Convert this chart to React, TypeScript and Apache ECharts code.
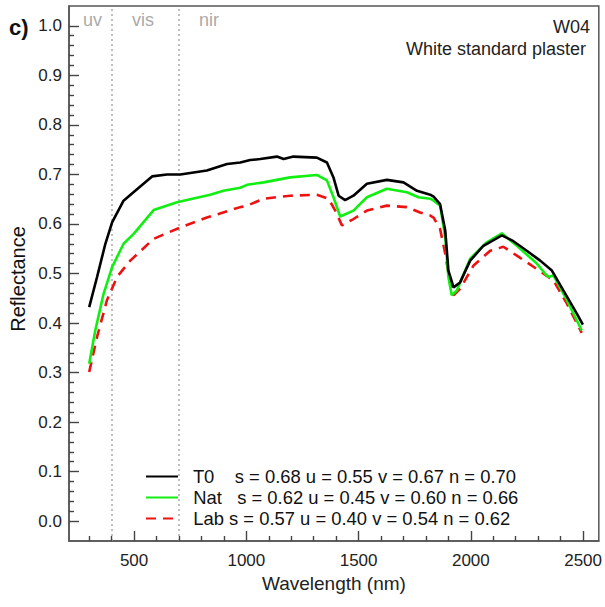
import React, { useEffect, useRef } from 'react';
import * as echarts from 'echarts';

// ---- data ----
const seriesNames = ['T0', 'Nat', 'Lab'];
const statS = ['0.68', '0.62', '0.57'];
const statU = ['0.55', '0.45', '0.40'];
const statV = ['0.67', '0.60', '0.54'];
const statN = ['0.70', '0.66', '0.62'];
const nameSpacer = ['    ', '   ', ' '];

const t0Wl = [300, 335, 372, 402, 453, 505, 580, 646, 706, 824, 914, 973, 1017, 1062, 1136, 1166, 1210, 1314, 1359, 1388, 1411, 1440, 1477, 1537, 1626, 1700, 1760, 1819, 1834, 1863, 1886, 1900, 1923, 1952, 1997, 2056, 2138, 2183, 2249, 2309, 2361, 2412, 2472, 2499];
const t0Ref = [0.432, 0.493, 0.560, 0.603, 0.647, 0.667, 0.696, 0.700, 0.700, 0.708, 0.721, 0.724, 0.729, 0.731, 0.736, 0.731, 0.736, 0.734, 0.724, 0.694, 0.657, 0.648, 0.657, 0.681, 0.689, 0.684, 0.667, 0.659, 0.655, 0.640, 0.587, 0.506, 0.472, 0.482, 0.526, 0.556, 0.577, 0.567, 0.546, 0.526, 0.506, 0.466, 0.419, 0.397];

const natWl = [300, 327, 364, 402, 453, 498, 587, 691, 839, 898, 973, 1003, 1077, 1195, 1314, 1359, 1388, 1418, 1477, 1537, 1626, 1715, 1767, 1819, 1834, 1863, 1886, 1900, 1915, 1938, 1997, 2071, 2138, 2205, 2294, 2330, 2345, 2368, 2428, 2494];
const natRef = [0.318, 0.385, 0.459, 0.513, 0.560, 0.580, 0.628, 0.644, 0.659, 0.667, 0.673, 0.679, 0.684, 0.694, 0.699, 0.688, 0.654, 0.615, 0.627, 0.654, 0.671, 0.664, 0.654, 0.651, 0.647, 0.637, 0.573, 0.493, 0.456, 0.466, 0.530, 0.563, 0.581, 0.556, 0.520, 0.500, 0.493, 0.496, 0.446, 0.385];

const labWl = [300, 335, 379, 424, 483, 587, 706, 824, 973, 1003, 1077, 1195, 1314, 1366, 1396, 1426, 1477, 1537, 1626, 1715, 1774, 1819, 1834, 1863, 1886, 1908, 1923, 1952, 2012, 2086, 2145, 2205, 2294, 2368, 2428, 2494];
const labRef = [0.301, 0.372, 0.446, 0.493, 0.526, 0.570, 0.593, 0.613, 0.634, 0.637, 0.651, 0.657, 0.659, 0.651, 0.627, 0.597, 0.610, 0.627, 0.637, 0.634, 0.623, 0.617, 0.613, 0.590, 0.540, 0.479, 0.456, 0.469, 0.516, 0.546, 0.554, 0.536, 0.509, 0.486, 0.439, 0.380];

const xTickValues = [500, 1000, 1500, 2000, 2500];
const xMinorTickValues = [300, 400, 500, 600, 700, 800, 900, 1000, 1100, 1200, 1300, 1400, 1500, 1600, 1700, 1800, 1900, 2000, 2100, 2200, 2300, 2400, 2500];
const yTickValues = [0, 0.1, 0.2, 0.3, 0.4, 0.5, 0.6, 0.7, 0.8, 0.9, 1.0];
const yMinorTickValues = [0, 0.02, 0.04, 0.06, 0.08, 0.1, 0.12, 0.14, 0.16, 0.18, 0.2, 0.22, 0.24, 0.26, 0.28, 0.3, 0.32, 0.34, 0.36, 0.38, 0.4, 0.42, 0.44, 0.46, 0.48, 0.5, 0.52, 0.54, 0.56, 0.58, 0.6, 0.62, 0.64, 0.66, 0.68, 0.7, 0.72, 0.74, 0.76, 0.78, 0.8, 0.82, 0.84, 0.86, 0.88, 0.9, 0.92, 0.94, 0.96, 0.98, 1.0];

const X_MIN = 210;
const X_MAX = 2570;
const Y_MIN = -0.04;
const Y_MAX = 1.04;

const regionBounds = [400, 700];
const regionLabels = ['uv', 'vis', 'nir'];
const panelLabel = 'c)';
const sampleCode = 'W04';
const sampleName = 'White standard plaster';

const FONT = '"Liberation Sans", Arial, sans-serif';

// layout
const W = 605, H = 607;
const GRID = { left: 69, right: 6, top: 6, bottom: 66 };
const MAJOR_PX = 10, MINOR_PX = 5;

const zip = (a: number[], b: number[]) => a.map((v, i) => [v, b[i]]);

export default function App() {
  const ref = useRef<HTMLDivElement>(null);
  useEffect(() => {
    if (!ref.current) return;
    const chart = echarts.init(ref.current, undefined, { renderer: 'svg' });
    const axisColor = '#555';
    const colors = ['#000000', '#11ee11', '#ee1111'];
    const datas = [zip(t0Wl, t0Ref), zip(natWl, natRef), zip(labWl, labRef)];

    // tick length in data units (pixel length / axis scale)
    const xPerPx = (X_MAX - X_MIN) / (W - GRID.left - GRID.right);
    const yPerPx = (Y_MAX - Y_MIN) / (H - GRID.top - GRID.bottom);
    const tickStyle = { type: 'solid', color: '#444', width: 1.4 };
    const tickLines: any[] = [];
    xMinorTickValues.forEach((v) => {
      const len = (xTickValues.includes(v) ? MAJOR_PX : MINOR_PX) * yPerPx;
      tickLines.push([{ coord: [v, Y_MIN], lineStyle: tickStyle }, { coord: [v, Y_MIN + len] }]);
    });
    yMinorTickValues.forEach((v) => {
      const len = (yTickValues.includes(v) ? MAJOR_PX : MINOR_PX) * xPerPx;
      tickLines.push([{ coord: [X_MIN, v], lineStyle: tickStyle }, { coord: [X_MIN + len, v] }]);
    });
    const regionLines = regionBounds.map((b) => ({ xAxis: b, lineStyle: { color: '#aaa', width: 1.5, type: [2, 3] } }));

    const option: any = {
      animation: false,
      backgroundColor: '#fff',
      textStyle: { fontFamily: FONT },
      grid: { ...GRID, show: true, borderColor: axisColor, borderWidth: 1.5 },
      xAxis: {
        type: 'value', min: X_MIN, max: X_MAX, position: 'bottom',
        axisLine: { show: true, onZero: false, lineStyle: { color: axisColor, width: 1.5 } },
        axisTick: { show: false },
        axisLabel: { show: true, customValues: xTickValues, fontSize: 17, color: '#222', margin: 11, fontFamily: FONT, formatter: (v: number) => String(v) },
        splitLine: { show: false },
        name: 'Wavelength (nm)', nameLocation: 'middle', nameGap: 29,
        nameTextStyle: { fontSize: 19, color: '#222', fontFamily: FONT },
      },
      yAxis: {
        type: 'value', min: Y_MIN, max: Y_MAX, position: 'left',
        axisLine: { show: true, onZero: false, lineStyle: { color: axisColor, width: 1.5 } },
        axisTick: { show: false },
        axisLabel: { show: true, customValues: yTickValues, fontSize: 17, color: '#222', margin: 7, fontFamily: FONT, formatter: (v: number) => v.toFixed(1) },
        splitLine: { show: false },
      },
      legend: {
        data: seriesNames,
        orient: 'vertical',
        left: 140, top: 462,
        itemWidth: 32, itemHeight: 14, itemGap: 2,
        itemStyle: { opacity: 0 },
        textStyle: { fontSize: 18.4, color: '#111', fontFamily: FONT, lineHeight: 19 },
        formatter: (name: string) => {
          const i = seriesNames.indexOf(name);
          return `  ${name}${nameSpacer[i]}s = ${statS[i]} u = ${statU[i]} v = ${statV[i]} n = ${statN[i]}`;
        },
      },
      series: seriesNames.map((name, i) => ({
        name,
        type: 'line',
        xAxisIndex: 0, yAxisIndex: 0,
        data: datas[i],
        symbol: 'none',
        z: 10 - i,
        color: colors[i],
        lineStyle: { color: colors[i], width: 2.6, type: i === 2 ? [10, 7] : 'solid' },
        markLine: i === 0 ? {
          silent: true, symbol: ['none', 'none'],
          label: { show: false },
          emphasis: { disabled: true },
          data: [...regionLines, ...tickLines],
        } : undefined,
      })),
      graphic: [
        { type: 'text', x: 9, y: 27, style: { text: panelLabel, font: `bold 22px ${FONT}`, fill: '#111', align: 'left', verticalAlign: 'middle' } },
        { type: 'text', x: 590, y: 27, style: { text: sampleCode, font: `18px ${FONT}`, fill: '#222', align: 'right', verticalAlign: 'middle' } },
        { type: 'text', x: 586, y: 49, style: { text: sampleName, font: `18px ${FONT}`, fill: '#222', align: 'right', verticalAlign: 'middle' } },
        { type: 'text', x: 83, y: 20, style: { text: regionLabels[0], font: `18px ${FONT}`, fill: '#aaa', align: 'left', verticalAlign: 'middle' } },
        { type: 'text', x: 132, y: 20, style: { text: regionLabels[1], font: `18px ${FONT}`, fill: '#aaa', align: 'left', verticalAlign: 'middle' } },
        { type: 'text', x: 199, y: 20, style: { text: regionLabels[2], font: `18px ${FONT}`, fill: '#aaa', align: 'left', verticalAlign: 'middle' } },
        { type: 'text', x: 18, y: 279, rotation: Math.PI / 2, style: { text: 'Reflectance', font: `20px ${FONT}`, fill: '#111', align: 'center', verticalAlign: 'middle' } },
      ],
    };
    chart.setOption(option);
    return () => chart.dispose();
  }, []);
  return <div ref={ref} style={{ position: 'fixed', left: 0, top: 0, width: W, height: H }} />;
}
